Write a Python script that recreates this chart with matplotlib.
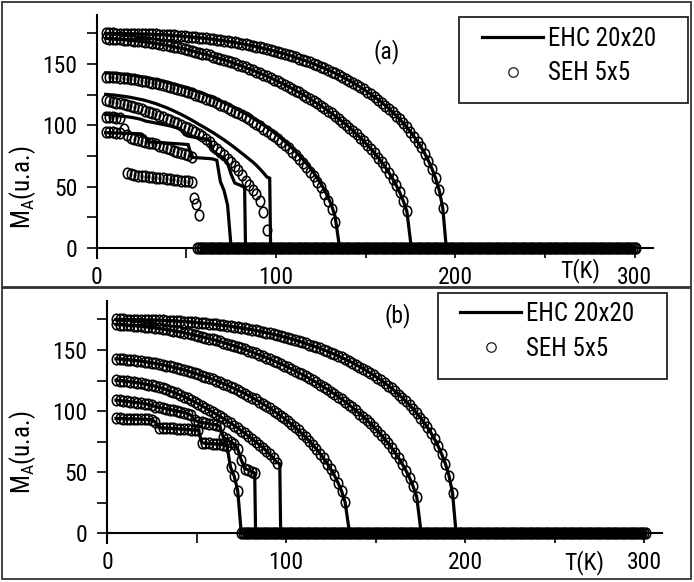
import numpy as np
import matplotlib
matplotlib.use('Agg')
import matplotlib.pyplot as plt
from matplotlib.path import Path
from matplotlib.transforms import Affine2D
from matplotlib.patches import Rectangle
from matplotlib.lines import Line2D

plt.rcParams['font.family'] = ['Roboto Condensed', 'Roboto', 'DejaVu Sans']
plt.rcParams['mathtext.default'] = 'regular'

# ---------------- EHC 20x20 curves (lines; identical in both panels) ----------------
T1 = np.arange(5, 194, 2)
M1 = [175.0, 175.0, 175.0, 174.9, 174.9, 174.9, 174.8, 174.8, 174.7, 174.6,
      174.5, 174.5, 174.4, 174.3, 174.1, 174.0, 173.9, 173.7, 173.5, 173.3,
      173.1, 172.9, 172.6, 172.4, 172.1, 171.8, 171.5, 171.2, 170.9, 170.5,
      170.2, 169.8, 169.4, 169.0, 168.5, 168.1, 167.6, 167.1, 166.5, 166.0,
      165.4, 164.8, 164.2, 163.5, 162.8, 162.1, 161.4, 160.6, 159.8, 159.0,
      158.2, 157.3, 156.4, 155.4, 154.4, 153.4, 152.4, 151.3, 150.2, 149.0,
      147.8, 146.6, 145.2, 143.9, 142.5, 141.1, 139.6, 138.0, 136.4, 134.7,
      133.0, 131.2, 129.3, 127.3, 125.3, 123.1, 120.9, 118.6, 116.1, 113.5,
      110.8, 108.0, 105.0, 101.8, 98.4, 94.7, 90.8, 86.7, 82.1, 77.0,
      71.2, 64.6, 57.0, 47.3, 33.0]
T2 = np.arange(5, 174, 2)
M2 = [170.9, 170.8, 170.6, 170.4, 170.2, 170.0, 169.7, 169.4, 169.1, 168.8,
      168.4, 168.0, 167.6, 167.2, 166.8, 166.3, 165.8, 165.2, 164.7, 164.1,
      163.5, 162.9, 162.2, 161.5, 160.8, 160.1, 159.3, 158.6, 157.8, 157.0,
      156.1, 155.2, 154.3, 153.4, 152.5, 151.5, 150.5, 149.4, 148.3, 147.2,
      146.1, 144.9, 143.8, 142.5, 141.3, 140.0, 138.7, 137.3, 135.9, 134.5,
      133.0, 131.5, 130.0, 128.4, 126.8, 125.1, 123.4, 121.6, 119.7, 117.9,
      116.0, 114.0, 111.9, 109.8, 107.6, 105.3, 103.0, 100.6, 98.0, 95.5,
      92.8, 90.0, 87.0, 84.0, 80.7, 77.3, 73.7, 69.9, 65.8, 61.4,
      56.6, 51.3, 45.4, 38.4, 29.9]
T3 = np.arange(5, 134, 2)
M3 = [142.8, 142.7, 142.5, 142.2, 142.0, 141.6, 141.3, 140.9, 140.5, 140.0,
      139.5, 139.0, 138.5, 137.9, 137.3, 136.6, 135.9, 135.2, 134.4, 133.6,
      132.8, 131.9, 131.0, 130.1, 129.1, 128.1, 127.1, 126.0, 124.9, 123.7,
      122.5, 121.3, 119.9, 118.6, 117.2, 115.8, 114.3, 112.7, 111.1, 109.5,
      107.8, 106.0, 104.2, 102.3, 100.3, 98.3, 96.2, 94.0, 91.7, 89.3,
      86.8, 84.2, 81.4, 78.5, 75.5, 72.3, 68.9, 65.3, 61.4, 57.1,
      52.6, 47.4, 41.5, 34.7, 25.5]
T4 = np.arange(5, 96, 2)
M4 = [125.3, 125.0, 124.8, 124.5, 124.1, 123.7, 123.3, 122.8, 122.2, 121.6,
      121.0, 120.3, 119.5, 118.6, 117.7, 116.6, 115.5, 114.4, 113.1, 111.8,
      110.4, 109.0, 107.5, 105.9, 104.3, 102.6, 100.8, 99.2, 97.5, 95.7,
      94.0, 92.1, 90.1, 88.2, 86.1, 84.0, 81.8, 79.5, 77.2, 74.9,
      72.5, 70.2, 67.5, 64.5, 61.3, 57.8]
T5 = [5, 7, 9, 11, 13, 15, 17, 19, 21, 23, 25, 27, 29, 31, 33, 35, 37, 39, 41, 43,
      45, 47, 49, 51, 53, 55, 57, 59, 61, 63, 65, 67, 69, 71, 73, 75, 77, 79, 81, 82.5]
M5 = [109.0, 108.7, 108.3, 108.0, 107.7, 107.3, 107.0, 106.6, 106.1, 105.5,
      104.8, 103.6, 103.0, 102.5, 101.9, 101.3, 100.7, 100.1, 99.5, 98.8,
      98.0, 96.5, 92.5, 91.2, 90.7, 90.2, 89.8, 89.2, 88.8, 87.5,
      78.5, 76.8, 75.0, 73.0, 69.0, 60.0, 53.0, 51.8, 50.5, 49.3]
T6 = np.arange(5, 74, 2)
M6 = [94.0, 94.0, 93.9, 93.8, 93.7, 93.6, 93.5, 93.4, 93.3, 93.2,
      93.0, 91.0, 86.5, 86.3, 86.1, 86.0, 85.8, 85.6, 85.4, 85.2,
      85.0, 84.8, 84.6, 84.3, 74.0, 73.7, 73.5, 73.3, 73.1, 72.9,
      72.5, 71.5, 54.0, 47.0, 35.0]
T_END = [195.0, 175.5, 135.5, 97.0, 83.0, 75.0]   # T where each EHC line falls to 0
T_MAX = 300

# ---------------- SEH 5x5 circles of panel (a) that differ from EHC ----------------
T3a = np.arange(5, 134, 2)
M3a = [139.8, 139.7, 139.5, 139.2, 139.0, 138.6, 138.3, 137.9, 137.5, 137.0,
       136.5, 136.0, 135.5, 134.9, 134.3, 133.6, 132.9, 132.2, 131.4, 130.6,
       129.8, 128.9, 128.0, 127.1, 126.1, 125.1, 124.1, 123.0, 121.9, 120.7,
       119.5, 118.3, 116.9, 115.6, 114.2, 112.8, 111.3, 109.7, 108.1, 106.5,
       104.8, 103.0, 101.2, 99.3, 97.3, 95.3, 93.2, 91.0, 88.7, 86.3,
       83.8, 81.2, 78.4, 75.5, 72.5, 69.3, 65.9, 62.3, 58.4, 54.1,
       49.6, 44.4, 38.5, 31.7, 21.5]
T4a = np.arange(5, 96, 2)
M4a = [120.5, 119.9, 119.3, 118.6, 117.9, 117.2, 116.5, 115.7, 114.9, 114.0,
       113.1, 112.1, 111.1, 110.0, 108.9, 107.8, 106.6, 105.4, 104.2, 102.9,
       101.6, 100.3, 98.9, 97.5, 96.0, 94.4, 92.8, 91.0, 88.7, 86.2,
       83.5, 80.8, 78.2, 75.5, 72.8, 70.0, 67.0, 63.5, 59.5, 55.0,
       51.0, 47.5, 44.0, 38.0, 29.0, 14.5]
T5a = [5, 7, 9, 11, 13]
M5a = [107.0, 106.8, 106.6, 106.3, 106.0]
T6a = np.arange(5, 54, 2)
M6a = [94.5, 94.4, 94.3, 94.1, 93.9, 97.0, 92.0, 90.0, 88.7, 88.0,
       87.3, 86.7, 86.0, 85.3, 84.5, 83.5, 82.5, 81.5, 80.5, 79.5,
       78.5, 77.5, 76.5, 75.5, 74.5]
T7a = [17, 19, 21, 23, 25, 27, 29, 31, 33, 35, 37, 39, 41, 43, 45, 47, 49, 51, 53,
       54, 55.5, 57]
M7a = [61.5, 60.5, 59.7, 59.0, 58.7, 58.4, 58.0, 57.7, 57.3, 57.0,
       56.7, 56.3, 56.0, 55.7, 55.3, 55.0, 54.7, 54.3, 53.5,
       41.0, 35.5, 27.0]
T_ZERO_A = np.arange(56, 302, 1)    # circles lying on M = 0
T_ZERO_B = np.arange(75, 302, 1)

LEGEND_LABELS = ['EHC 20x20', 'SEH 5x5']
XTICKS = [0, 100, 200, 300]
YTICKS = [0, 50, 100, 150]

# ---------------- figure ----------------
W, H = 694, 582
fig = plt.figure(figsize=(W / 100, H / 100), dpi=100, facecolor='white')


def fx(px):
    return px / W


def fy(py):
    return 1 - py / H


ell = Path.unit_circle().transformed(Affine2D().scale(0.8, 1.0))
MK = dict(marker=ell, ms=7.6, mfc='none', mec='black', mew=1.15, ls='none')
LW = 2.3
FS = 17

lines = [(T1, M1), (T2, M2), (T3, M3), (T4, M4), (T5, M5), (T6, M6)]


def setup_axes(ax):
    ax.set_xlim(0, 310)
    ax.set_ylim(-8, 190)
    for s in ('top', 'right'):
        ax.spines[s].set_visible(False)
    ax.spines['bottom'].set_position(('data', 0))
    for s in ('left', 'bottom'):
        ax.spines[s].set_linewidth(1.5)
    ax.set_xticks(XTICKS)
    ax.set_xticks([50, 150, 250], minor=True)
    ax.set_yticks(YTICKS)
    ax.set_yticks([25, 75, 125, 175], minor=True)
    ax.tick_params(which='both', direction='out', length=7, width=1.2,
                   labelsize=FS)
    ax.tick_params(axis='x', which='major', pad=6)
    ax.tick_params(axis='y', which='major', pad=7)
    ax.set_facecolor('none')


def draw_lines(ax):
    for k, (t, m) in enumerate(lines):
        xs = list(t)
        ys = list(m)
        if k == 3:
            xs += [96.5]
            ys += [57.0]
        xs += [T_END[k], T_MAX]
        ys += [0.0, 0.0]
        ax.plot(xs, ys, color='black', lw=LW, solid_joinstyle='miter', zorder=3)


# ---- panel (a)
axa = fig.add_axes([fx(96.7), fy(257.8), fx(652.5 - 96.7), (257.8 - 15) / H])
setup_axes(axa)
draw_lines(axa)
for t, m in [(T1, M1), (T2, M2), (T3a, M3a), (T4a, M4a), (T5a, M5a),
             (T6a, M6a), (T7a, M7a)]:
    axa.plot(t, m, zorder=4, **MK)
axa.plot(T_ZERO_A, [0.0] * len(T_ZERO_A), zorder=4, **MK)

# ---- panel (b)
axb = fig.add_axes([fx(107), fy(543.1), fx(662 - 107), (543.1 - 301.1) / H])
setup_axes(axb)
draw_lines(axb)
for t, m in lines:
    axb.plot(t, m, zorder=4, **MK)
axb.plot(T_ZERO_B, [0.0] * len(T_ZERO_B), zorder=4, **MK)

# ---- legends
handles = [Line2D([], [], color='black', lw=LW),
           Line2D([], [], marker='o', ms=6.8, mfc='none', mec='#1a1a1a',
                  mew=0.9, ls='none')]
LFS = 18
for ax, (x0, ytop, box) in [(axa, (482, 27, (459, 17, 688, 103))),
                           (axb, (460, 302, (438, 293, 667, 379)))]:
    ax.legend(handles, LEGEND_LABELS, loc='upper left',
              bbox_to_anchor=(fx(x0), fy(ytop)), bbox_transform=fig.transFigure,
              frameon=False, fontsize=LFS, borderpad=0, borderaxespad=0,
              handlelength=61 / (LFS * 100 / 72), handletextpad=0.2,
              labelspacing=0.42)
    x1, y1, x2, y2 = box
    fig.patches.append(Rectangle((fx(x1), fy(y2)), fx(x2 - x1), (y2 - y1) / H,
                                 transform=fig.transFigure, fill=False,
                                 lw=1.3, ec='#222222'))

# ---- panel frames
for (x1, y1, x2, y2) in [(2, 2, 691, 287), (2, 288, 691, 579)]:
    fig.patches.append(Rectangle((fx(x1), fy(y2)), fx(x2 - x1), (y2 - y1) / H,
                                 transform=fig.transFigure, fill=False,
                                 lw=1.3, ec='#333333'))

# ---- texts
ylab = r'M$_{A}$(u.a.)'
fig.text(fx(23), fy(187), ylab, rotation=90, ha='center', va='center', fontsize=18)
fig.text(fx(23), fy(452), ylab, rotation=90, ha='center', va='center', fontsize=18)
fig.text(fx(580), fy(271), 'T(K)', ha='center', va='center', fontsize=FS)
fig.text(fx(584), fy(563), 'T(K)', ha='center', va='center', fontsize=FS)
fig.text(fx(387), fy(52), '(a)', ha='center', va='center', fontsize=FS)
fig.text(fx(398), fy(316), '(b)', ha='center', va='center', fontsize=FS)

fig.savefig('out.png', dpi=100, facecolor='white')
